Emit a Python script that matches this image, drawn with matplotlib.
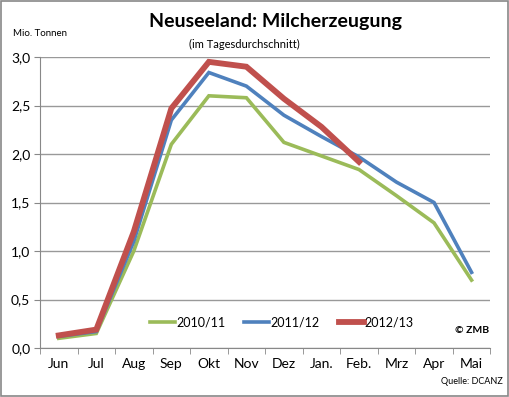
import numpy as np
import matplotlib.pyplot as plt
from matplotlib.patches import Rectangle

months = ['Jun', 'Jul', 'Aug', 'Sep', 'Okt', 'Nov', 'Dez', 'Jan.', 'Feb.', 'Mrz', 'Apr', 'Mai']
y2010 = [0.10, 0.15, 1.00, 2.10, 2.60, 2.58, 2.12, 1.98, 1.84, 1.57, 1.29, 0.70]
y2011 = [0.12, 0.17, 1.10, 2.35, 2.84, 2.70, 2.40, 2.18, 1.97, 1.71, 1.50, 0.78]
y2012 = [0.13, 0.19, 1.20, 2.47, 2.95, 2.90, 2.57, 2.28, 1.92]

plt.rcParams['font.family'] = ['Lato', 'DejaVu Sans']

fig = plt.figure(figsize=(5.10, 3.97), dpi=100)
fig.patches.append(Rectangle((0.002, 0.003), 0.995, 0.994, transform=fig.transFigure,
                             fill=False, edgecolor='#888888', linewidth=1.2))
ax = fig.add_axes([0.0784, 0.1234, 0.883, 0.733])

x = np.arange(len(months))
ax.plot(x, y2010, color='#9BBB59', lw=2.6, label='2010/11', solid_joinstyle='miter')
ax.plot(x[:len(y2011)], y2011, color='#4F81BD', lw=2.6, label='2011/12', solid_joinstyle='miter')
ax.plot(x[:len(y2012)], y2012, color='#C0504D', lw=4.2, label='2012/13', solid_joinstyle='miter')

ax.set_xlim(-0.5, len(months) - 0.5)
ax.set_ylim(0, 3.0)
ax.set_yticks(np.arange(0, 3.01, 0.5))
ax.set_yticklabels([f'{v:.1f}'.replace('.', ',') for v in np.arange(0, 3.01, 0.5)], fontsize=10)
ax.set_xticks(x)
ax.set_xticklabels(months, fontsize=10)
ax.set_xticks(np.arange(-0.5, len(months), 1), minor=True)
ax.tick_params(axis='x', which='major', length=0, pad=7)
ax.tick_params(axis='x', which='minor', length=4, color='#888888')
ax.tick_params(axis='y', length=4, color='#888888', pad=3)
ax.yaxis.grid(True, color='#999999', lw=1)
ax.set_axisbelow(True)
for s in ['top', 'right']:
    ax.spines[s].set_visible(False)
for s in ['left', 'bottom']:
    ax.spines[s].set_color('#888888')

ax.legend(loc='center left', bbox_to_anchor=(0.245, 0.088), borderaxespad=0, borderpad=0,
          ncol=3, frameon=False, fontsize=9, handlelength=2.0, handletextpad=0.1,
          columnspacing=1.5)

fig.text(0.54, 0.945, 'Neuseeland: Milcherzeugung', ha='center', va='center',
         fontsize=14, fontweight='bold')
fig.text(0.48, 0.888, '(im Tagesdurchschnitt)', ha='center', va='center', fontsize=8)
fig.text(0.025, 0.915, 'Mio. Tonnen', ha='left', va='center', fontsize=7)
fig.text(0.96, 0.168, '© ZMB', ha='right', va='center', fontsize=7.5, fontweight='bold')
fig.text(0.985, 0.038, 'Quelle: DCANZ', ha='right', va='center', fontsize=6.5)

fig.savefig('out.png', dpi=100, facecolor='white')
